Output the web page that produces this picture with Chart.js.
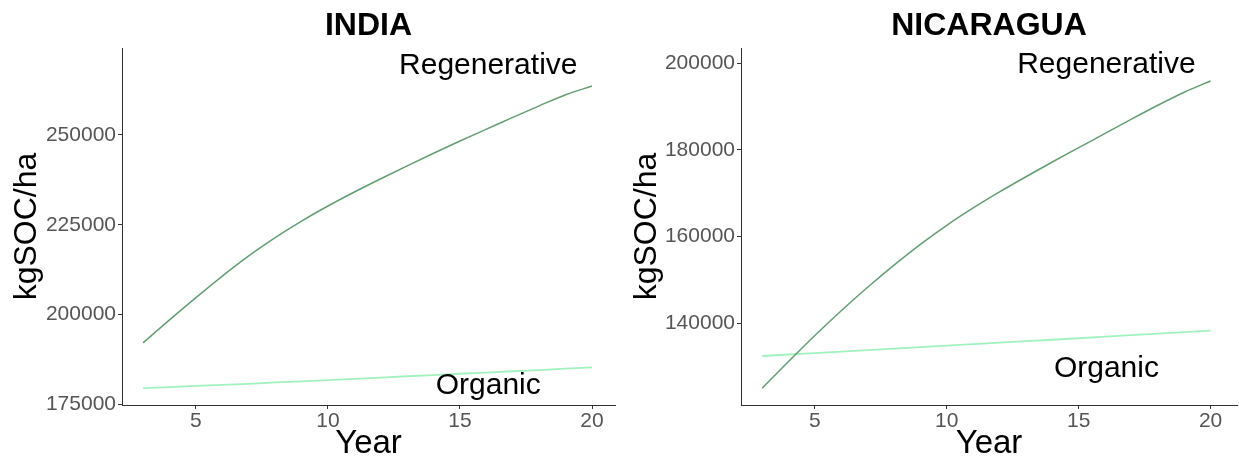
<!DOCTYPE html>
<html>
<head>
<meta charset="utf-8">
<script src="https://cdn.jsdelivr.net/npm/chart.js@4.4.0/dist/chart.umd.min.js"></script>
<style>
  body { margin: 0; background: #fff; }
  #wrap { position: relative; width: 1239px; height: 464px; }
  .box { position: absolute; top: 0; height: 464px; }
</style>
</head>
<body>
<div id="wrap">
  <div class="box" style="left:0;width:620px"><canvas id="india"></canvas></div>
  <div class="box" style="left:620px;width:619px"><canvas id="nicaragua"></canvas></div>
</div>
<script>
var years = [3, 4, 5, 6, 7, 8, 9, 10, 11, 12, 13, 14, 15, 16, 17, 18, 19, 20];

var indiaRegenerative = [192100, 198500, 204700, 210700, 216300, 221400, 226000, 230200, 234100,
    237800, 241400, 244900, 248300, 251600, 254900, 258100, 261200, 263600];
var indiaOrganic = [179500, 179800, 180100, 180400, 180700, 181100, 181400, 181700, 182100,
    182400, 182800, 183100, 183500, 183800, 184200, 184500, 184900, 185300];

var nicaraguaRegenerative = [125000, 131200, 137200, 142900, 148300, 153400, 158200, 162600, 166600,
    170300, 173800, 177200, 180500, 183800, 187100, 190300, 193300, 195900];
var nicaraguaOrganic = [132450, 132800, 133100, 133450, 133800, 134150, 134500, 134850, 135200,
    135550, 135900, 136200, 136550, 136900, 137250, 137600, 137950, 138300];

var xTicks = [5, 10, 15, 20];
var indiaTicks = [175000, 200000, 225000, 250000];
var nicaraguaTicks = [140000, 160000, 180000, 200000];

// text labels sit at data positions
var indiaNotes = [
    {text: "Regenerative", x: 16.07, y: 269400},
    {text: "Organic", x: 16.07, y: 180300}
];
var nicaraguaNotes = [
    {text: "Regenerative", x: 16.05, y: 199600},
    {text: "Organic", x: 16.05, y: 129450}
];

var regenColor = "#649d72";
var organicColor = "#a2f2c0";
var axisColor = "#333333";
var font = "'Liberation Sans', Arial, sans-serif";

var notesPlugin = {
    id: "notes",
    afterDatasetsDraw: function (chart) {
        var c = chart.ctx;
        var area = chart.chartArea;
        var opts = chart.options.plugins.notes;
        c.save();
        c.fillStyle = "#000";
        c.textAlign = "center";
        c.textBaseline = "middle";
        c.font = "30px " + font;
        opts.items.forEach(function (n) {
            c.fillText(n.text, chart.scales.x.getPixelForValue(n.x), chart.scales.y.getPixelForValue(n.y));
        });
        c.font = "bold 32px " + font;
        c.fillText(opts.title, (area.left + area.right) / 2, 26);
        c.restore();
    }
};

function makeChart(id, title, regen, organic, yMin, yMax, yTicks, xMax, notes, leftW, padRight) {
    return new Chart(document.getElementById(id), {
        type: "line",
        data: {
            datasets: [{
                label: "Regenerative",
                data: years.map(function (y, i) { return {x: y, y: regen[i]}; }),
                borderColor: regenColor,
                borderWidth: 1.5,
                pointRadius: 0,
                cubicInterpolationMode: "monotone"
            }, {
                label: "Organic",
                data: years.map(function (y, i) { return {x: y, y: organic[i]}; }),
                borderColor: organicColor,
                borderWidth: 1.8,
                pointRadius: 0,
                tension: 0
            }]
        },
        options: {
            responsive: true,
            maintainAspectRatio: false,
            animation: false,
            layout: {padding: {top: 48, right: padRight, left: 0, bottom: 0}},
            plugins: {
                legend: {display: false},
                tooltip: {enabled: false},
                notes: {title: title, items: notes}
            },
            scales: {
                x: {
                    type: "linear",
                    min: 2.2,
                    max: xMax,
                    afterBuildTicks: function (s) { s.ticks = xTicks.map(function (v) { return {value: v}; }); },
                    afterFit: function (s) { s.height = 59; },
                    grid: {drawOnChartArea: false, drawTicks: true, tickLength: 4, color: axisColor},
                    border: {display: true, color: axisColor, width: 1},
                    ticks: {color: "#555555", font: {family: font, size: 21}, padding: 0, maxRotation: 0},
                    title: {display: true, text: "Year", color: "#000", font: {family: font, size: 33}, padding: {top: 0, bottom: 0}}
                },
                y: {
                    type: "linear",
                    min: yMin,
                    max: yMax,
                    afterBuildTicks: function (s) { s.ticks = yTicks.map(function (v) { return {value: v}; }); },
                    afterFit: function (s) { s.width = leftW; },
                    grid: {drawOnChartArea: false, drawTicks: true, tickLength: 4, color: axisColor},
                    border: {display: true, color: axisColor, width: 1},
                    ticks: {color: "#555555", font: {family: font, size: 21}, padding: 2,
                        callback: function (v) { return String(v); }},
                    title: {display: true, text: "kgSOC/ha", color: "#000", font: {family: font, size: 32}, padding: {top: 8, bottom: 0}}
                }
            }
        },
        plugins: [notesPlugin]
    });
}

makeChart("india", "INDIA", indiaRegenerative, indiaOrganic, 174800, 274200, indiaTicks, 20.87, indiaNotes, 122, 5);
makeChart("nicaragua", "NICARAGUA", nicaraguaRegenerative, nicaraguaOrganic, 121150, 203500, nicaraguaTicks, 21.0, nicaraguaNotes, 121, 2);
</script>
</body>
</html>
